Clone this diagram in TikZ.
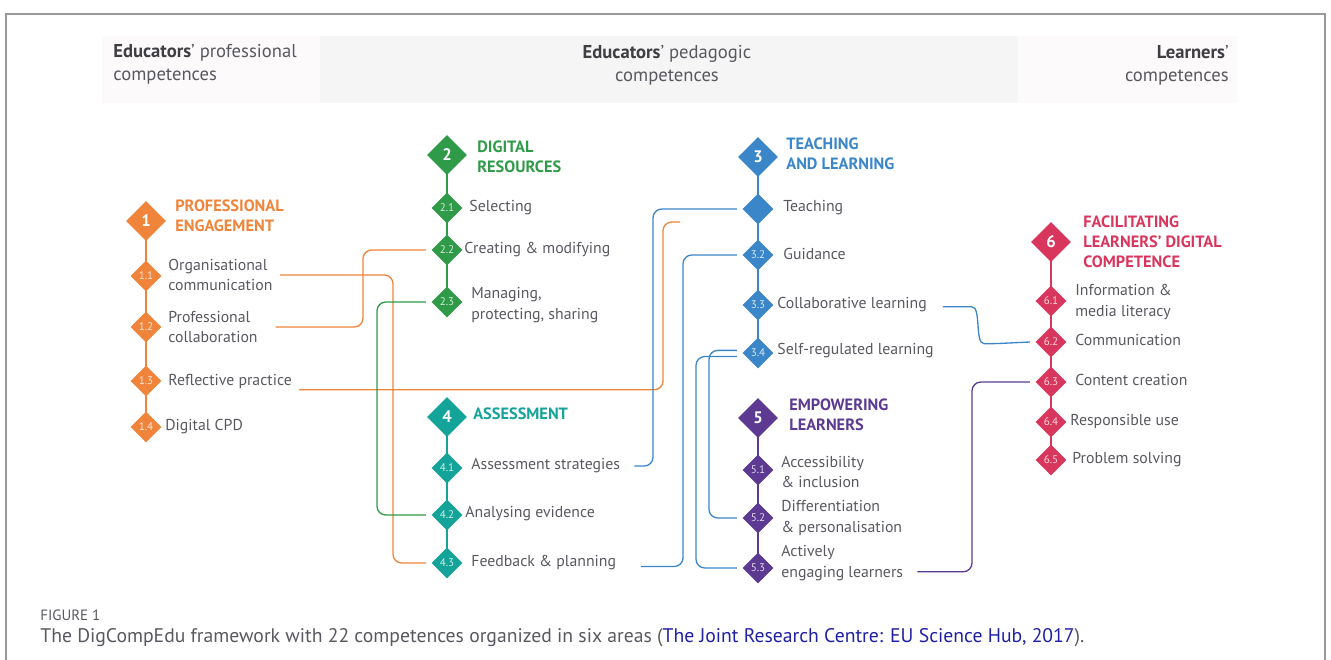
\documentclass[tikz,border=0pt]{standalone}
\usepackage{fontspec}
\setmainfont{PT Sans}
\usetikzlibrary{shapes.geometric,backgrounds}

\definecolor{engage}{RGB}{240,132,58}
\definecolor{resource}{RGB}{47,154,72}
\definecolor{teach}{RGB}{58,134,200}
\definecolor{assess}{RGB}{20,163,152}
\definecolor{empower}{RGB}{92,58,145}
\definecolor{facil}{RGB}{217,54,94}
\definecolor{txtgrey}{RGB}{88,88,95}
\definecolor{bandpink}{RGB}{253,250,252}
\definecolor{bandgrey}{RGB}{245,245,245}
\definecolor{linkblue}{RGB}{32,32,165}

\tikzstyle{bigdia}=[diamond, aspect=1, minimum size=0.8cm, inner sep=0pt, text=white, font=\bfseries\fontsize{9.5}{9.5}\selectfont]
\tikzstyle{dia}=[diamond, aspect=1, minimum size=0.62cm, inner sep=0pt, text=white, text opacity=0.8, font=\fontsize{6.3}{6.3}\selectfont]
\tikzstyle{areatitle}=[anchor=west, align=left, inner sep=0pt, font=\bfseries\fontsize{9.3}{11.3}\selectfont]
\tikzstyle{comptext}=[anchor=west, align=left, inner sep=0pt, text=txtgrey, font=\fontsize{9}{11.9}\selectfont]
\tikzstyle{spine}=[line width=1.1pt]
\tikzstyle{connector}=[line width=0.75pt, rounded corners=5pt]
\tikzstyle{hdr}=[text=txtgrey, font=\fontsize{10.6}{13}\selectfont, inner sep=0pt]
\newcommand{\drawbands}[0]
{
  \fill[bandpink] (102,36) rectangle (320,103);
  \fill[bandgrey] (320,36) rectangle (1018,103);
  \fill[bandpink] (1018,36) rectangle (1237,103);
  \node[hdr, anchor=west, align=left](hdrprof) at (113,64) {\textbf{\color{txtgrey!70!black}Educators}' professional\\competences};
  \node[hdr, align=center](hdrped) at (667,65) {\textbf{\color{txtgrey!70!black}Educators}' pedagogic\\competences};
  \node[hdr, anchor=east, align=right](hdrlearn) at (1229,65) {\textbf{\color{txtgrey!70!black}Learners}'\\competences};
}

\begin{document}
\begin{tikzpicture}[x=0.02cm, y=-0.02cm]
	\useasboundingbox (0,0) rectangle (1331,659);
	\draw[gray!80, line width=0.6pt] (6,665) -- (6,14) -- (1325,14) -- (1325,665);
	\drawbands{}

	% area 1
	\node[bigdia, fill=engage](area1) at (146,221) {1};
	\node[areatitle, text=engage](title1) at (175,216) {PROFESSIONAL\\ENGAGEMENT};
	\node[dia, fill=engage](c11) at (146,276) {1.1};
	\node[dia, fill=engage](c12) at (146,327) {1.2};
	\node[dia, fill=engage](c13) at (146,381) {1.3};
	\node[dia, fill=engage](c14) at (146,427) {1.4};
	\node[comptext](t11) at (168,275) {Organisational\\communication};
	\node[comptext](t12) at (168,327) {Professional\\collaboration};
	\node[comptext](t13) at (168,381) {Reflective practice};
	\node[comptext](t14) at (165,427) {Digital CPD};

	% area 2
	\node[bigdia, fill=resource](area2) at (447,155) {2};
	\node[areatitle, text=resource](title2) at (477,157) {DIGITAL\\RESOURCES};
	\node[dia, fill=resource](c21) at (447,208) {2.1};
	\node[dia, fill=resource](c22) at (447,250) {2.2};
	\node[dia, fill=resource](c23) at (447,302) {2.3};
	\node[comptext](t21) at (469,208) {Selecting};
	\node[comptext](t22) at (464,250) {Creating \& modifying};
	\node[comptext](t23) at (471,305) {Managing,\\protecting, sharing};

	% area 3
	\node[bigdia, fill=teach](area3) at (758,157) {3};
	\node[areatitle, text=teach](title3) at (786,154) {TEACHING\\AND LEARNING};
	\node[dia, fill=teach](c31) at (758,209) {};
	\node[dia, fill=teach](c32) at (758,255) {3.2};
	\node[dia, fill=teach](c33) at (758,305) {3.3};
	\node[dia, fill=teach](c34) at (758,353) {3.4};
	\node[comptext](t31) at (783,208) {Teaching};
	\node[comptext](t32) at (783,254) {Guidance};
	\node[comptext](t33) at (777,305) {Collaborative learning};
	\node[comptext](t34) at (777,351) {Self-regulated learning};

	% area 4
	\node[bigdia, fill=assess](area4) at (447,417) {4};
	\node[areatitle, text=assess](title4) at (473,414) {ASSESSMENT};
	\node[dia, fill=assess](c41) at (447,468) {4.1};
	\node[dia, fill=assess](c42) at (447,515) {4.2};
	\node[dia, fill=assess](c43) at (447,563) {4.3};
	\node[comptext](t41) at (471,466) {Assessment strategies};
	\node[comptext](t42) at (465,514) {Analysing evidence};
	\node[comptext](t43) at (471,563) {Feedback \& planning};

	% area 5
	\node[bigdia, fill=empower](area5) at (758,418) {5};
	\node[areatitle, text=empower](title5) at (789,415) {EMPOWERING\\LEARNERS};
	\node[dia, fill=empower](c51) at (758,470) {5.1};
	\node[dia, fill=empower](c52) at (758,518) {5.2};
	\node[dia, fill=empower](c53) at (758,568) {5.3};
	\node[comptext](t51) at (781,472) {Accessibility\\\& inclusion};
	\node[comptext](t52) at (781,518) {Differentiation\\\& personalisation};
	\node[comptext](t53) at (781,563) {Actively\\engaging learners};

	% area 6
	\node[bigdia, fill=facil](area6) at (1051,242) {6};
	\node[areatitle, text=facil](title6) at (1083,242) {FACILITATING\\LEARNERS' DIGITAL\\COMPETENCE};
	\node[dia, fill=facil](c61) at (1051,301) {6.1};
	\node[dia, fill=facil](c62) at (1051,342) {6.2};
	\node[dia, fill=facil](c63) at (1051,382) {6.3};
	\node[dia, fill=facil](c64) at (1051,422) {6.4};
	\node[dia, fill=facil](c65) at (1051,460) {6.5};
	\node[comptext](t61) at (1075,302) {Information \&\\media literacy};
	\node[comptext](t62) at (1075,340) {Communication};
	\node[comptext](t63) at (1075,380) {Content creation};
	\node[comptext](t64) at (1070,421) {Responsible use};
	\node[comptext](t65) at (1072,460) {Problem solving};

	\begin{scope}[on background layer]
		\draw[spine, engage] (area1.center) -- (c14.center);
		\draw[spine, resource] (area2.center) -- (c23.center);
		\draw[spine, teach] (area3.center) -- (c34.center);
		\draw[spine, assess] (area4.center) -- (c43.center);
		\draw[spine, empower] (area5.center) -- (c53.center);
		\draw[spine, facil] (area6.center) -- (c65.center);
	\end{scope}

	% links between competences
	\coordinate (oend) at (680,222);
	\draw[connector, engage] ([xshift=4pt]t11.east) -| (393,420) |- ([xshift=-3pt]c43.west);
	\draw[connector, engage] ([xshift=10pt]t12.east) -| (363,290) |- ([xshift=-3pt]c22.west);
	\draw[connector, engage] ([xshift=4pt,yshift=-5pt]t13.east) -| (663,300) |- (oend);
	\draw[connector, resource] ([xshift=-3pt]c23.west) -| (377,400) |- ([xshift=-3pt]c42.west);
	\draw[connector, teach] ([xshift=-3pt]c31.west) -| (653,350) |- ([xshift=8pt]t41.east);
	\draw[connector, teach] ([xshift=-3pt]c32.west) -| (683,400) |- ([xshift=14pt,yshift=-2pt]t43.east);
	\draw[connector, teach] ([xshift=-3pt,yshift=1.5pt]c34.west) -| (709,450) |- ([xshift=-3pt]c52.west);
	\draw[connector, teach] ([xshift=-3pt,yshift=-2pt]c34.west) -| (696,450) |- ([xshift=-3pt]c53.west);
	\draw[connector, teach] ([xshift=9pt,yshift=-1pt]t33.east) -- ++(20,0) to[out=0, in=180] ++(30,37) -- ([xshift=-3pt]c62.west);
	\draw[connector, empower] ([xshift=8pt,yshift=-5pt]t53.east) -| (972,450) |- ([xshift=-3pt]c63.west);

	% caption
	\node[anchor=west, inner sep=0pt, text=txtgrey, font=\fontsize{8.5}{8.5}\selectfont](figlabel) at (40,615) {FIGURE 1};
	\node[anchor=west, inner sep=0pt, text=txtgrey, font=\fontsize{11.2}{12}\selectfont](caption) at (40,638) {The DigCompEdu framework with 22 competences organized in six areas (\textcolor{linkblue}{The Joint Research Centre: EU Science Hub, 2017}).};
\end{tikzpicture}
\end{document}
